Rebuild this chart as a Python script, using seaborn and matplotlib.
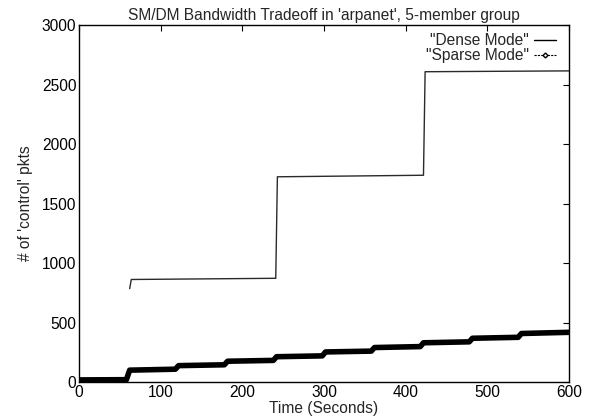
import numpy as np
import pandas as pd
import matplotlib
matplotlib.use("Agg")
import matplotlib.pyplot as plt
import seaborn as sns
from matplotlib.lines import Line2D

# Data
dense_t = [62, 64, 241, 243, 422, 424, 600]
dense_v = [785, 862, 872, 1725, 1738, 2608, 2615]

sparse_t = [0, 58, 62, 118, 122, 178, 182, 238, 242, 298, 302, 358, 362, 418, 422, 478, 482, 538, 542, 600]
sparse_v = [18, 20, 100, 108, 138, 145, 175, 182, 213, 220, 253, 260, 290, 298, 330, 338, 368, 376, 408, 418]

x_ticks = [0, 100, 200, 300, 400, 500, 600]
y_ticks = [0, 500, 1000, 1500, 2000, 2500, 3000]

sns.set_theme(style="white")
plt.rcParams['font.family'] = ['Liberation Sans', 'DejaVu Sans']

FS = 11.2

fig = plt.figure(figsize=(5.9, 4.18), dpi=100)
ax = fig.add_axes([0.134, 0.086, 0.830, 0.854])

dense_df = pd.DataFrame({"t": dense_t, "v": dense_v})
sparse_df = pd.DataFrame({"t": sparse_t, "v": sparse_v})

sns.lineplot(data=dense_df, x="t", y="v", ax=ax, color="#2a2a2a", linewidth=1.0,
             estimator=None, sort=False)
sns.lineplot(data=sparse_df, x="t", y="v", ax=ax, color="black", linewidth=4.0,
             estimator=None, sort=False, solid_capstyle="round", solid_joinstyle="round")

ax.set_xlim(0, 600)
ax.set_ylim(0, 3000)
ax.set_xticks(x_ticks)
ax.set_yticks(y_ticks)
ax.tick_params(direction="in", length=4, width=0.8, labelsize=FS, colors="black",
               top=True, right=True, pad=2)
for s in ax.spines.values():
    s.set_visible(True)
    s.set_color("black")
    s.set_linewidth(1.0)

ax.set_xlabel("Time (Seconds)", fontsize=FS, labelpad=0.5)
ax.set_ylabel("# of 'control' pkts", fontsize=FS, labelpad=6)
ax.set_title("SM/DM Bandwidth Tradeoff in 'arpanet', 5-member group", fontsize=FS, pad=4)

handles = [
    Line2D([], [], color="black", linewidth=1.0),
    Line2D([], [], color="black", linewidth=0.8, linestyle=(0, (2, 1)),
           marker="D", markersize=2.5, markerfacecolor="white", markeredgecolor="black"),
]
ax.legend(handles, ['"Dense Mode"', '"Sparse Mode"'], loc="upper right",
          frameon=False, markerfirst=False, fontsize=FS, handlelength=1.45,
          handletextpad=0.3, labelspacing=0.0, borderaxespad=0.0,
          bbox_to_anchor=(0.987, 0.995))

fig.savefig("out.png", dpi=100)
